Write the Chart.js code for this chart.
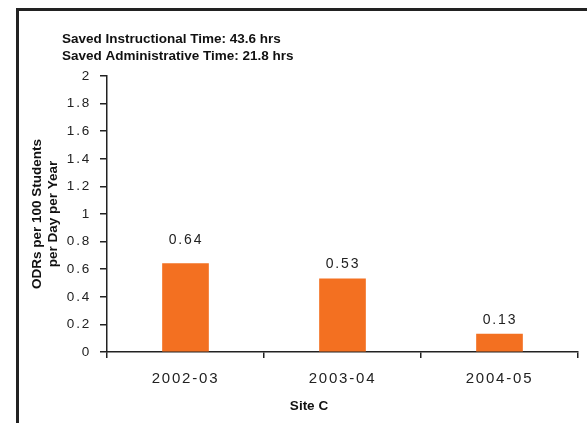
<!DOCTYPE html>
<html>
<head>
<meta charset="utf-8">
<script src="https://cdn.jsdelivr.net/npm/chart.js@4"></script>
<style>
  body { margin: 0; background: #fff; overflow: hidden; }
  #wrap { position: relative; width: 587px; height: 423px; }
  #frame { position: absolute; left: 16px; top: 8px; right: -10px; bottom: -10px;
           border-left: 3px solid #222; border-top: 3px solid #222; }
  canvas { position: absolute; left: 0; top: 0; }
</style>
</head>
<body>
<div id="wrap">
  <div id="frame"></div>
  <canvas id="odrChart" width="587" height="423"></canvas>
</div>
<script>
const years = ['2002-03', '2003-04', '2004-05'];
const odrValues = [0.64, 0.53, 0.13];
const titleLines = ['Saved Instructional Time: 43.6 hrs', 'Saved Administrative Time: 21.8 hrs'];
const yTitleLines = ['ODRs per 100 Students', 'per Day per Year'];
const xTitle = 'Site C';

const fontFamily = 'Arial, "Liberation Sans", sans-serif';
const textColor = '#222';
const barColor = '#F37021';
// gap between bar top and value label baseline (the original is not uniform)
const labelGaps = [20, 10.5, 10.5];

// bold titles + value labels drawn on the canvas
const textPlugin = {
	id: 'texts',
	beforeDraw(chart) {
		chart.ctx.letterSpacing = '1.8px';
	},
	afterDatasetsDraw(chart) {
		const ctx = chart.ctx;
		const meta = chart.getDatasetMeta(0);
		ctx.save();
		ctx.letterSpacing = '1.8px';
		ctx.font = '14px ' + fontFamily;
		ctx.fillStyle = textColor;
		ctx.textAlign = 'center';
		ctx.textBaseline = 'alphabetic';
		meta.data.forEach((bar, i) => {
			ctx.fillText(odrValues[i].toFixed(2), bar.x + 0.5, bar.y - labelGaps[i]);
		});
		ctx.restore();
	},
	afterDraw(chart) {
		const ctx = chart.ctx;
		ctx.save();
		ctx.letterSpacing = '0px';
		ctx.font = 'bold 13.5px ' + fontFamily;
		ctx.fillStyle = '#111';
		ctx.textAlign = 'left';
		ctx.textBaseline = 'alphabetic';
		ctx.fillText(titleLines[0], 62, 43);
		ctx.fillText(titleLines[1], 62, 60);
		ctx.textAlign = 'center';
		ctx.fillText(xTitle, 309, 410);
		ctx.translate(0, 214);
		ctx.rotate(-Math.PI / 2);
		ctx.fillText(yTitleLines[0], 0, 41);
		ctx.fillText(yTitleLines[1], 0, 57);
		ctx.restore();
		ctx.letterSpacing = '1.8px';
	}
};

const odrChart = new Chart(document.getElementById('odrChart'), {
	type: 'bar',
	data: {
		labels: years,
		datasets: [
			{
				data: odrValues,
				backgroundColor: barColor,
				barThickness: 46,
			},
		],
	},
	options: {
		responsive: false,
		animation: false,
		layout: { padding: { left: 0, right: 9, top: 76, bottom: 0 } },
		plugins: {
			legend: { display: false },
			tooltip: { enabled: false },
		},
		scales: {
			x: {
				offset: true,
				grid: { offset: true, drawOnChartArea: false, tickLength: 6, color: textColor, lineWidth: 1.5 },
				border: { color: textColor, width: 1.5 },
				ticks: { font: { size: 15, family: fontFamily }, color: textColor, padding: 12, maxRotation: 0 },
				afterFit(scale) { scale.height = 71; },
			},
			y: {
				min: 0,
				max: 2,
				ticks: {
					stepSize: 0.2,
					font: { size: 13.5, family: fontFamily },
					color: textColor,
					padding: 9,
					callback: (value) => String(Math.round(value * 10) / 10),
				},
				grid: { drawOnChartArea: false, tickLength: 7, color: textColor, lineWidth: 1.5 },
				border: { color: textColor, width: 1.5 },
				afterFit(scale) { scale.width = 107; },
			},
		},
	},
	plugins: [textPlugin],
});
</script>
</body>
</html>
